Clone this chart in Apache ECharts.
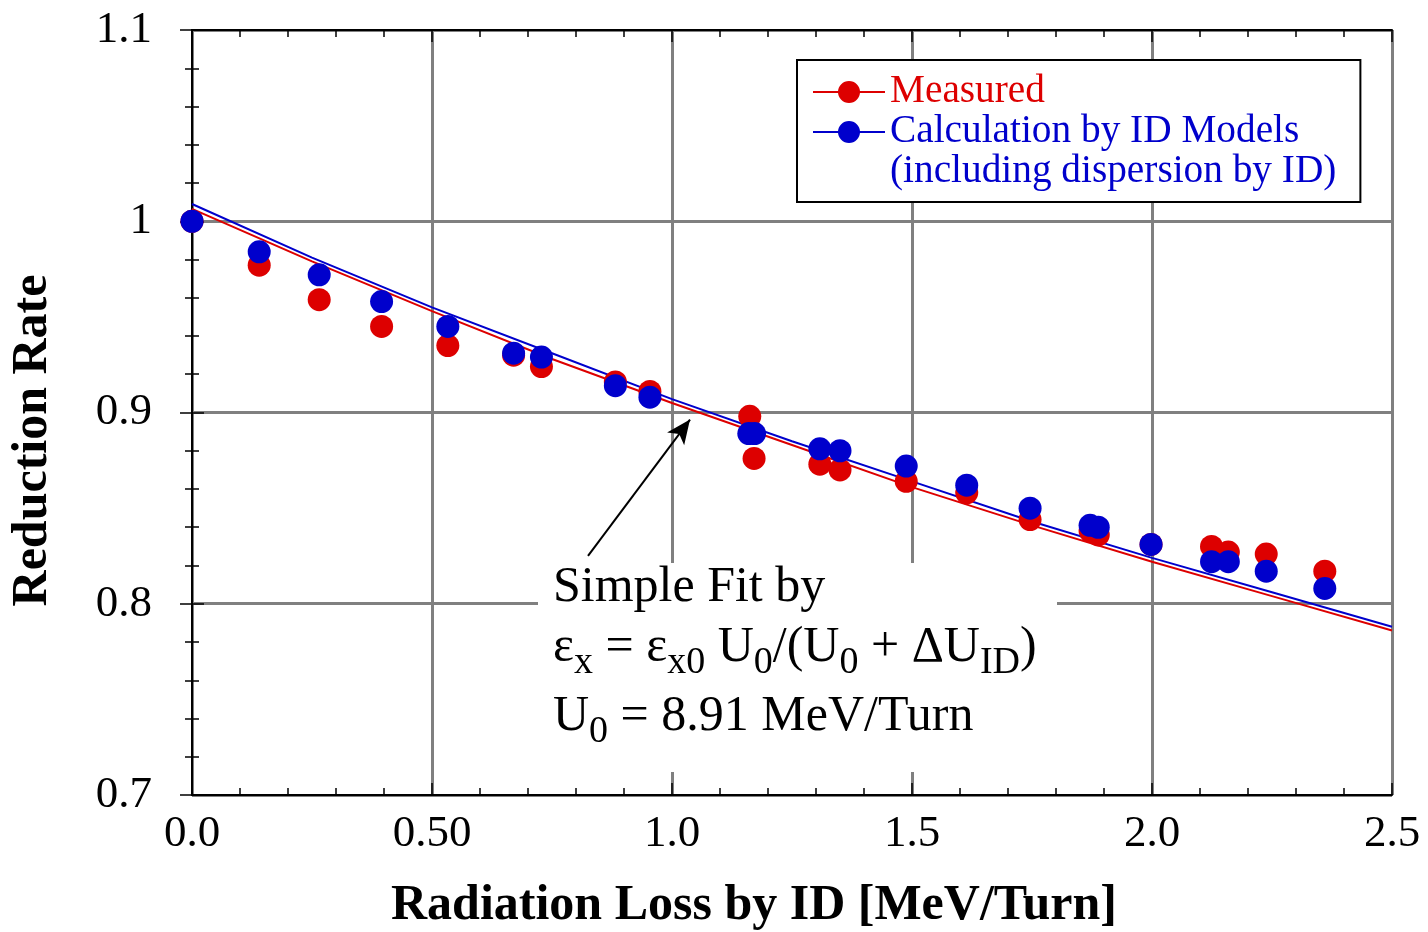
<!DOCTYPE html>
<html lang="en">
<head>
    <meta charset="UTF-8">
    <title>Reduction Rate vs Radiation Loss by ID</title>
    <script src="https://cdn.jsdelivr.net/npm/echarts@6/dist/echarts.min.js"></script>
    <style>
        html, body { margin: 0; padding: 0; background: #fff; }
        #chart { width: 1428px; height: 932px; }
    </style>
</head>
<body>
    <div id="chart"></div>

    <script>
        // measured points (red)
        const measuredX = [0, 0.140, 0.265, 0.395, 0.533, 0.670, 0.728, 0.882, 0.954, 1.162, 1.171, 1.308, 1.350, 1.488, 1.614, 1.746, 1.871, 1.888, 1.998, 2.124, 2.159, 2.238, 2.360];
        const measuredY = [1.000, 0.977, 0.959, 0.945, 0.935, 0.930, 0.924, 0.916, 0.911, 0.898, 0.876, 0.873, 0.870, 0.864, 0.858, 0.844, 0.838, 0.836, 0.831, 0.830, 0.827, 0.826, 0.817];

        // calculation by ID models (blue)
        const calcX = [0, 0.140, 0.265, 0.395, 0.533, 0.670, 0.728, 0.882, 0.954, 1.160, 1.172, 1.308, 1.350, 1.488, 1.614, 1.746, 1.871, 1.888, 1.998, 2.124, 2.159, 2.238, 2.360];
        const calcY = [1.000, 0.984, 0.972, 0.958, 0.945, 0.931, 0.929, 0.914, 0.908, 0.889, 0.889, 0.881, 0.880, 0.872, 0.862, 0.850, 0.841, 0.840, 0.831, 0.822, 0.822, 0.817, 0.808];

        // simple fit curves
        const fitX = [0, 0.25, 0.5, 0.75, 1.0, 1.25, 1.5, 1.75, 2.0, 2.25, 2.5];
        const fitMeasured = [1.0065, 0.979, 0.953, 0.928, 0.905, 0.883, 0.861, 0.841, 0.822, 0.804, 0.786];
        const fitCalc = [1.009, 0.981, 0.955, 0.931, 0.907, 0.885, 0.864, 0.843, 0.824, 0.806, 0.788];

        const xTickLabels = ['0.0', '0.50', '1.0', '1.5', '2.0', '2.5'];
        const yTickLabels = ['0.7', '0.8', '0.9', '1', '1.1'];

        const RED = '#dd0000';
        const BLUE = '#0000cc';
        const FONT = "'Liberation Serif', 'Times New Roman', serif";

        function pairs(xs, ys) {
            return xs.map((x, i) => [x, ys[i]]);
        }

        const legendIcon = 'path://M0,10H72V12H0Z M36,0A11,11 0 1,1 36,22A11,11 0 1,1 36,0Z';

        var chart = echarts.init(document.getElementById('chart'));

        var tickCommon = {
            axisLine: { show: true, lineStyle: { color: '#000', width: 2 } },
            axisTick: { show: true, inside: true, length: 12, lineStyle: { color: '#000', width: 1.5 } },
            minorTick: { show: true, splitNumber: 5, length: 7, lineStyle: { color: '#000', width: 1.5 } }
        };

        var subStyle = { fontSize: 38, fontFamily: FONT, fill: '#000', verticalAlign: 'top', padding: [31, 0, 0, 0] };

        var option = {
            backgroundColor: '#fff',
            animation: false,
            textStyle: { fontFamily: FONT },
            grid: { left: 192, right: 36, top: 30, bottom: 137, outerBoundsMode: 'none', containLabel: false },
            legend: {
                left: 797,
                top: 60,
                orient: 'vertical',
                selectedMode: false,
                backgroundColor: '#fff',
                borderColor: '#000',
                borderWidth: 2,
                borderRadius: 0,
                padding: [12, 24, 10, 16],
                itemGap: 0,
                itemWidth: 72,
                itemHeight: 22,
                itemTextGap: 11,
                textStyle: { fontFamily: FONT, fontSize: 39.3, lineHeight: 40 },
                data: [
                    { name: 'Measured', icon: legendIcon, textStyle: { color: RED } },
                    { name: 'Calculation by ID Models', icon: legendIcon, textStyle: { color: BLUE } },
                    { name: '(including dispersion by ID)', icon: 'rect', itemStyle: { opacity: 0 }, textStyle: { color: BLUE } }
                ]
            },
            xAxis: [
                Object.assign({
                    type: 'value',
                    position: 'bottom',
                    min: 0,
                    max: 2.5,
                    interval: 0.5,
                    name: 'Radiation Loss by ID [MeV/Turn]',
                    nameLocation: 'middle',
                    nameGap: 86,
                    nameTextStyle: { fontFamily: FONT, fontSize: 50, fontWeight: 'bold', color: '#000', padding: [0, 76, 0, 0] },
                    axisLabel: {
                        color: '#000', fontSize: 45, fontFamily: FONT, margin: 17,
                        formatter: v => xTickLabels[Math.round(v / 0.5)]
                    },
                    splitLine: { show: true, lineStyle: { color: '#808080', width: 3 } }
                }, tickCommon),
                Object.assign({
                    type: 'value',
                    position: 'top',
                    min: 0,
                    max: 2.5,
                    interval: 0.5,
                    axisLabel: { show: false },
                    splitLine: { show: false }
                }, tickCommon)
            ],
            yAxis: [
                Object.assign({
                    type: 'value',
                    position: 'left',
                    min: 0.7,
                    max: 1.1,
                    interval: 0.1,
                    name: 'Reduction Rate',
                    nameLocation: 'middle',
                    nameRotate: 90,
                    nameGap: 134,
                    nameTextStyle: { fontFamily: FONT, fontSize: 50, fontWeight: 'bold', color: '#000', padding: [0, 56, 0, 0] },
                    axisLabel: {
                        color: '#000', fontSize: 45, fontFamily: FONT, margin: 40,
                        formatter: v => yTickLabels[Math.round((v - 0.7) / 0.1)]
                    },
                    splitLine: { show: true, lineStyle: { color: '#808080', width: 3 } }
                }, tickCommon),
                Object.assign({
                    type: 'value',
                    position: 'right',
                    min: 0.7,
                    max: 1.1,
                    interval: 0.1,
                    axisLabel: { show: false },
                    splitLine: { show: false }
                }, tickCommon)
            ],
            graphic: [
                {
                    type: 'rect',
                    z: 1,
                    shape: { x: 538, y: 563, width: 519, height: 209 },
                    style: { fill: '#fff' }
                },
                {
                    type: 'text',
                    z: 2,
                    style: {
                        x: 553, y: 588,
                        text: 'Simple Fit by',
                        font: '50px ' + FONT,
                        fill: '#000',
                        verticalAlign: 'middle'
                    }
                },
                {
                    type: 'text',
                    z: 2,
                    style: {
                        x: 553, y: 613,
                        text: 'ε{s|x} = ε{s|x0} U{s|0}/(U{s|0} + ΔU{s|ID})',
                        font: '50px ' + FONT,
                        fill: '#000',
                        verticalAlign: 'top',
                        rich: { s: subStyle }
                    }
                },
                {
                    type: 'text',
                    z: 2,
                    style: {
                        x: 553, y: 682,
                        text: 'U{s|0} = 8.91 MeV/Turn',
                        font: '50px ' + FONT,
                        fill: '#000',
                        verticalAlign: 'top',
                        rich: { s: subStyle }
                    }
                }
            ],
            series: [
                {
                    name: 'fit measured',
                    type: 'line',
                    data: pairs(fitX, fitMeasured),
                    showSymbol: false,
                    lineStyle: { color: RED, width: 2 },
                    z: 3
                },
                {
                    name: 'fit calc',
                    type: 'line',
                    data: pairs(fitX, fitCalc),
                    showSymbol: false,
                    lineStyle: { color: BLUE, width: 2 },
                    z: 3,
                    markLine: {
                        silent: true,
                        symbol: ['none', 'arrow'],
                        symbolSize: [16, 24],
                        label: { show: false },
                        lineStyle: { color: '#000', width: 2, type: 'solid' },
                        data: [[{ coord: [0.825, 0.825] }, { coord: [1.0375, 0.8963] }]]
                    }
                },
                {
                    name: 'Measured',
                    type: 'scatter',
                    data: pairs(measuredX, measuredY),
                    symbol: 'circle',
                    symbolSize: 23,
                    itemStyle: { color: RED, opacity: 1 },
                    z: 4
                },
                {
                    name: 'Calculation by ID Models',
                    type: 'scatter',
                    data: pairs(calcX, calcY),
                    symbol: 'circle',
                    symbolSize: 23,
                    itemStyle: { color: BLUE, opacity: 1 },
                    z: 5
                },
                {
                    name: '(including dispersion by ID)',
                    type: 'scatter',
                    data: [],
                    itemStyle: { color: BLUE }
                }
            ]
        };

        chart.setOption(option);
    </script>
</body>
</html>
